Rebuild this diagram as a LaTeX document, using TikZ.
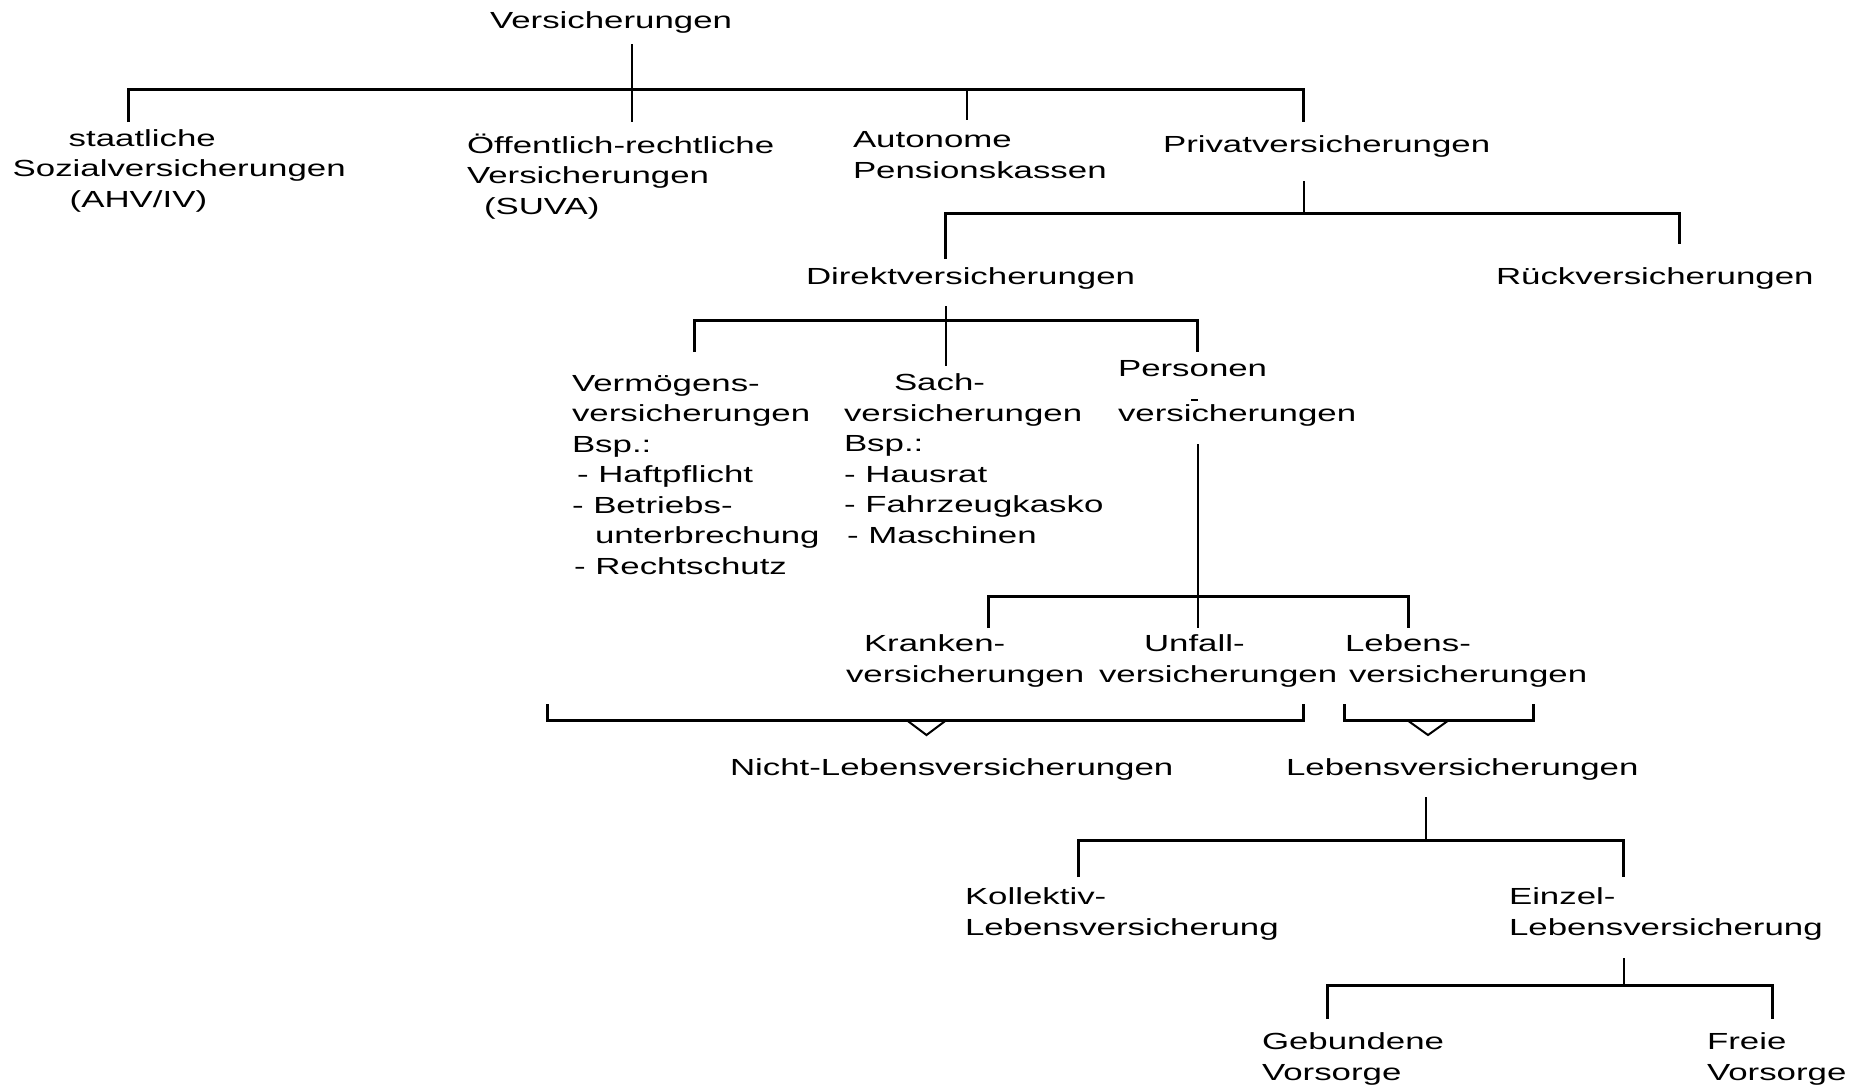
\documentclass[tikz,border=0pt]{standalone}
\usepackage{fontspec}
\setmainfont{Liberation Sans}[FakeStretch=1.495]
\begin{document}
\begin{tikzpicture}[x=1pt,y=-1pt,
  txt/.style={anchor=base west, inner sep=0pt, outer sep=0pt, align=left,
              font=\fontsize{23.3}{30.5}\selectfont},
  bar/.style={line width=3pt, line join=miter},
  stem/.style={line width=2pt}]
\useasboundingbox (0,0) rectangle (1865,1085);

% ---------- texts (base anchor = baseline of last line) ----------
\node[txt] (root) at (490,28) {Versicherungen};
\node[txt] (staat) at (12.7,207) {\hspace*{56pt}staatliche\\Sozialversicherungen\\\hspace*{57pt}(AHV/IV)};
\node[txt] (oeff) at (467,214) {Öffentlich-rechtliche\\Versicherungen\\\hspace*{17pt}(SUVA)};
\node[txt] (auto) at (853,178) {Autonome\\Pensionskassen};
\node[txt] (priv) at (1163,152) {Privatversicherungen};
\node[txt] (direkt) at (806,284) {Direktversicherungen};
\node[txt] (rueck) at (1496,284) {Rückversicherungen};
\node[txt] (verm) at (572,574) {Vermögens-\\versicherungen\\Bsp.:\\\hspace*{5pt}- Haftpflicht\\- Betriebs-\\\hspace*{23pt}unterbrechung\\\hspace*{2pt}- Rechtschutz};
\node[txt] (sach) at (844,543) {\hspace*{50pt}Sach-\\versicherungen\\Bsp.:\\- Hausrat\\- Fahrzeugkasko\\\hspace*{3pt}- Maschinen};
\node[txt] (pers) at (1118,421) {Personen\\[14pt]versicherungen};
\node[txt] (kranken) at (846,682) {\hspace*{18pt}Kranken-\\versicherungen};
\node[txt] (unfall) at (1099,682) {\hspace*{45pt}Unfall-\\versicherungen};
\node[txt] (lebens) at (1345,682) {Lebens-\\\hspace*{4pt}versicherungen};
\node[txt] (nichtleben) at (730,775) {Nicht-Lebensversicherungen};
\node[txt] (leben) at (1286,775) {Lebensversicherungen};
\node[txt] (kollektiv) at (965,935) {Kollektiv-\\Lebensversicherung};
\node[txt] (einzel) at (1509,935) {Einzel-\\Lebensversicherung};
\node[txt] (gebunden) at (1262,1080) {Gebundene\\Vorsorge};
\node[txt] (frei) at (1707,1080) {Freie\\Vorsorge};

% stray mark above the i of "versicherungen"
\coordinate (markL) at (1191,400);
\coordinate (markR) at (1198,400);
\draw[line width=2pt] (markL) -- (markR);

% ---------- level 0 ----------
\coordinate (s0t) at (632,44);   \coordinate (s0b) at (632,122);
\coordinate (b0L) at (128.5,89); \coordinate (b0R) at (1303.6,89);
\coordinate (d0a) at (128.5,122);
\coordinate (d0c) at (967,89);   \coordinate (d0ce) at (967,120);
\coordinate (d0d) at (1303.6,122);
\draw[stem] (s0t) -- (s0b);
\draw[bar] (d0a) -- (b0L) -- (b0R) -- (d0d);
\draw[stem] (d0c) -- (d0ce);

% ---------- level 1 (Privat) ----------
\coordinate (s1t) at (1303.6,181);
\coordinate (b1L) at (945.6,213); \coordinate (b1M) at (1303.6,213); \coordinate (b1R) at (1679.4,213);
\coordinate (d1a) at (945.6,259); \coordinate (d1b) at (1679.4,244);
\draw[stem] (s1t) -- (b1M);
\draw[bar] (d1a) -- (b1L) -- (b1R) -- (d1b);

% ---------- level 2 (Direkt) ----------
\coordinate (s2t) at (945.6,306); \coordinate (s2b) at (945.6,366);
\coordinate (b2L) at (694.6,320); \coordinate (b2R) at (1197.7,320);
\coordinate (d2a) at (694.6,352); \coordinate (d2b) at (1197.7,352);
\draw[stem] (s2t) -- (s2b);
\draw[bar] (d2a) -- (b2L) -- (b2R) -- (d2b);

% ---------- level 3 (Personen) ----------
\coordinate (s3t) at (1197.7,444); \coordinate (s3b) at (1197.7,628);
\coordinate (b3L) at (988.4,596); \coordinate (b3R) at (1408.3,596);
\coordinate (d3a) at (988.4,628); \coordinate (d3b) at (1408.3,628);
\draw[stem] (s3t) -- (s3b);
\draw[bar] (d3a) -- (b3L) -- (b3R) -- (d3b);

% ---------- brackets ----------
\coordinate (k1a) at (547,704);   \coordinate (k1b) at (547,720);
\coordinate (k1c) at (1303.6,720); \coordinate (k1d) at (1303.6,704);
\coordinate (v1a) at (906.5,720); \coordinate (v1t) at (926.5,735); \coordinate (v1b) at (946.5,720);
\draw[bar] (k1a) -- (k1b) -- (k1c) -- (k1d);
\draw[stem] (v1a) -- (v1t) -- (v1b);
\coordinate (k2a) at (1344,704);  \coordinate (k2b) at (1344,720);
\coordinate (k2c) at (1533,720);  \coordinate (k2d) at (1533,704);
\coordinate (v2a) at (1407,720);  \coordinate (v2t) at (1428,735); \coordinate (v2b) at (1449,720);
\draw[bar] (k2a) -- (k2b) -- (k2c) -- (k2d);
\draw[stem] (v2a) -- (v2t) -- (v2b);

% ---------- level 4 (Lebensversicherungen) ----------
\coordinate (s4t) at (1426,797);
\coordinate (b4L) at (1078.8,840); \coordinate (b4M) at (1426,840); \coordinate (b4R) at (1623.5,840);
\coordinate (d4a) at (1078.8,877); \coordinate (d4b) at (1623.5,877);
\draw[stem] (s4t) -- (b4M);
\draw[bar] (d4a) -- (b4L) -- (b4R) -- (d4b);

% ---------- level 5 (Einzel) ----------
\coordinate (s5t) at (1623.5,958);
\coordinate (b5L) at (1327.4,985); \coordinate (b5M) at (1623.5,985); \coordinate (b5R) at (1772.2,985);
\coordinate (d5a) at (1327.4,1019); \coordinate (d5b) at (1772.2,1019);
\draw[stem] (s5t) -- (b5M);
\draw[bar] (d5a) -- (b5L) -- (b5R) -- (d5b);
\end{tikzpicture}
\end{document}
